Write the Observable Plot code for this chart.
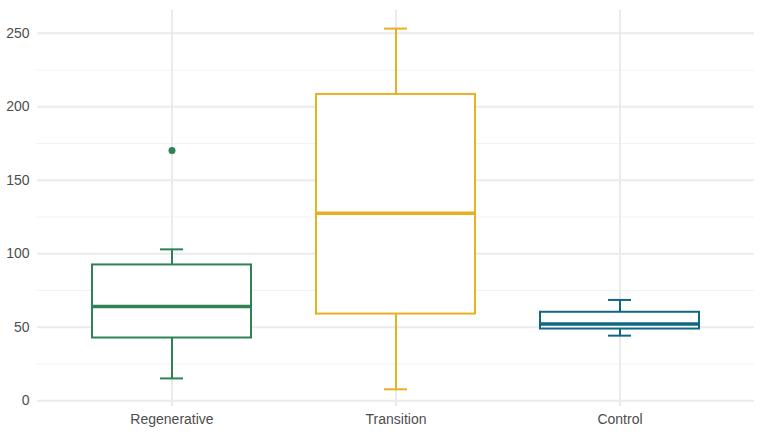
<!DOCTYPE html>
<html>
<head>
<meta charset="utf-8">
<script src="https://cdn.jsdelivr.net/npm/d3@7"></script>
<script src="https://cdn.jsdelivr.net/npm/@observablehq/plot@0.6"></script>
<style>
  html, body { margin: 0; padding: 0; background: #fff; }
  #chart { width: 764px; height: 434px; }
</style>
</head>
<body>
<div id="chart"></div>
<script>
const categories = ["Regenerative", "Transition", "Control"];
const colors = ["#2e8254", "#e6b021", "#0f6783"];
const whiskerLow = [15.2, 7.8, 44.3];
const q1 = [42.7, 59.0, 48.8];
const median = [64.2, 127.6, 52.2];
const q3 = [92.4, 208.4, 60.2];
const whiskerHigh = [103.0, 253.2, 68.6];
const outlierGroup = ["Regenerative"];
const outlierValue = [170.3];
const majorTicks = [0, 50, 100, 150, 200, 250];
const minorTicks = [25, 75, 125, 175, 225];

const stats = categories.map((c, i) => ({
  group: c, lo: whiskerLow[i], q1: q1[i], med: median[i], q3: q3[i], hi: whiskerHigh[i]
}));
const outliers = outlierGroup.map((g, i) => ({group: g, value: outlierValue[i]}));

const bw = 158, capW = 22;
const chart = Plot.plot({
  width: 764,
  height: 434,
  marginLeft: 37,
  marginRight: 10,
  marginTop: 10,
  marginBottom: 28,
  style: {fontFamily: "Liberation Sans, Arial, sans-serif", fontSize: "14px", color: "#4d4d4d", background: "#fff"},
  x: {domain: categories, type: "band", paddingInner: 0.29, paddingOuter: 0.245, label: null, tickSize: 0, tickPadding: 8},
  y: {domain: [-3.9, 265.5], ticks: majorTicks, label: null, tickSize: 0, tickPadding: 8},
  color: {domain: categories, range: colors},
  marks: [
    Plot.ruleY(minorTicks, {stroke: "#f2f2f2", strokeWidth: 1}),
    Plot.ruleY(majorTicks, {stroke: "#ebebeb", strokeWidth: 2}),
    Plot.tickX(categories, {x: d => d, stroke: "#ebebeb", strokeWidth: 2}),
    Plot.ruleX(stats, {x: "group", y1: "lo", y2: "q1", stroke: "group", strokeWidth: 2}),
    Plot.ruleX(stats, {x: "group", y1: "q3", y2: "hi", stroke: "group", strokeWidth: 2}),
    Plot.tickY(stats, {x: "group", y: "lo", stroke: "group", strokeWidth: 2, inset: (bw - capW) / 2}),
    Plot.tickY(stats, {x: "group", y: "hi", stroke: "group", strokeWidth: 2, inset: (bw - capW) / 2}),
    Plot.barY(stats, {x: "group", y1: "q1", y2: "q3", fill: "white", stroke: "group", strokeWidth: 2}),
    Plot.tickY(stats, {x: "group", y: "med", stroke: "group", strokeWidth: 3.5}),
    Plot.dot(outliers, {x: "group", y: "value", fill: "group", r: 3.5, stroke: "none"})
  ]
});
document.getElementById("chart").appendChild(chart);
</script>
</body>
</html>
